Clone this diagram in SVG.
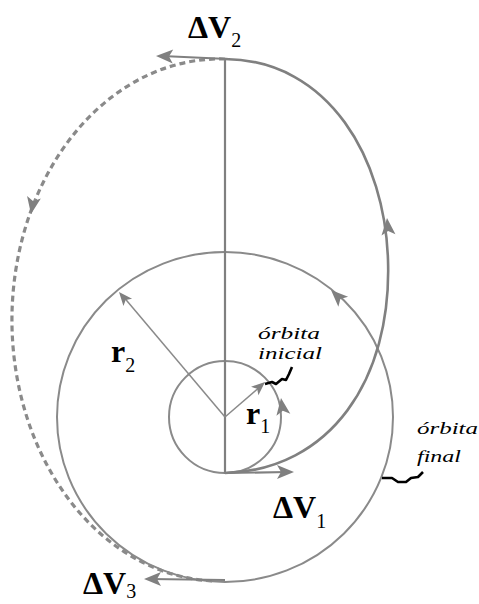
<svg xmlns="http://www.w3.org/2000/svg" xmlns:xlink="http://www.w3.org/1999/xlink" width="479" height="604" viewBox="0 0 479 604">
<style>
.orb{fill:none;stroke:#8a8a8a;stroke-width:2}
.tr{fill:none;stroke:#808080;stroke-width:2.6}
.dash{fill:none;stroke:#8a8a8a;stroke-width:3.2;stroke-dasharray:6 4}
.ln{fill:none;stroke:#808080;stroke-width:2.2}
.rad{fill:none;stroke:#8a8a8a;stroke-width:1.5}
.lead{fill:none;stroke:#000;stroke-width:2.6;stroke-linejoin:round}
.ah{fill:#808080}
.big{font-family:"Liberation Serif","DejaVu Serif",serif;font-weight:bold;font-size:32px;fill:#000}
.sub{font-family:"Liberation Serif","DejaVu Serif",serif;font-weight:normal;font-size:20px}
.it{font-family:"Liberation Serif","DejaVu Serif",serif;font-style:italic;font-size:17px;fill:#000}
</style>
<defs>
<path id="ah" d="M0,0 L-17,-7 L-13,0 L-17,7 z"/>
</defs>
<g id="orbita-final"><ellipse class="orb" cx="225" cy="417" rx="168" ry="165"/></g>
<g id="orbita-inicial"><circle class="orb" cx="225" cy="417" r="56"/></g>
<g id="connectors">
<line class="ln" x1="225" y1="59" x2="225" y2="474"/>
<path class="tr" d="M225,473 C330,470 392,380 388,260 C385,160 330,60 225,59"/>
<path class="dash" d="M225,59 A208,261 0 0 0 215,581"/>
<line class="ln" x1="225" y1="473" x2="288" y2="472"/>
<line class="ln" x1="228" y1="59" x2="162" y2="56"/>
<line class="ln" x1="225" y1="580" x2="150" y2="579"/>
<line class="rad" x1="225" y1="417" x2="262" y2="385"/>
<line class="rad" x1="225" y1="417" x2="122" y2="295"/>
<use xlink:href="#ah" class="ah" transform="translate(294,472)"/>
<use xlink:href="#ah" class="ah" transform="translate(156,56) rotate(182)"/>
<use xlink:href="#ah" class="ah" transform="translate(144,579) rotate(180)"/>
<use xlink:href="#ah" class="ah" transform="translate(265,382) rotate(-41) scale(0.8)"/>
<use xlink:href="#ah" class="ah" transform="translate(119,292) rotate(-130) scale(0.8)"/>
<use xlink:href="#ah" class="ah" transform="translate(387,218) rotate(-95)"/>
<use xlink:href="#ah" class="ah" transform="translate(331,290) rotate(-136)"/>
<use xlink:href="#ah" class="ah" transform="translate(281,398) rotate(-98)"/>
<use xlink:href="#ah" class="ah" transform="translate(31,214) rotate(100)"/>
<path class="lead" d="M265,384 L272,382 L276,384 L282,379 L286,380 L289,374 L292,367"/>
<path class="lead" d="M382,478 L392,478 L398,482 L406,482 L411,478 L418,477 L423,472"/>
</g>
<g id="labels">
<text class="big" x="188" y="38">ΔV<tspan class="sub" dy="9">2</tspan></text>
<text class="big" x="273" y="518">ΔV<tspan class="sub" dy="10">1</tspan></text>
<text class="big" x="83" y="594">ΔV<tspan class="sub" dy="4">3</tspan></text>
<text class="big" x="111" y="362">r<tspan class="sub" dy="10">2</tspan></text>
<text class="big" x="246" y="424">r<tspan class="sub" dy="9">1</tspan></text>
<text class="it" x="258" y="339" textLength="62" lengthAdjust="spacingAndGlyphs">órbita</text>
<text class="it" x="258" y="359" textLength="64" lengthAdjust="spacingAndGlyphs">inicial</text>
<text class="it" x="417" y="434" textLength="61" lengthAdjust="spacingAndGlyphs">órbita</text>
<text class="it" x="417" y="462" textLength="44" lengthAdjust="spacingAndGlyphs">final</text>
</g>
</svg>
